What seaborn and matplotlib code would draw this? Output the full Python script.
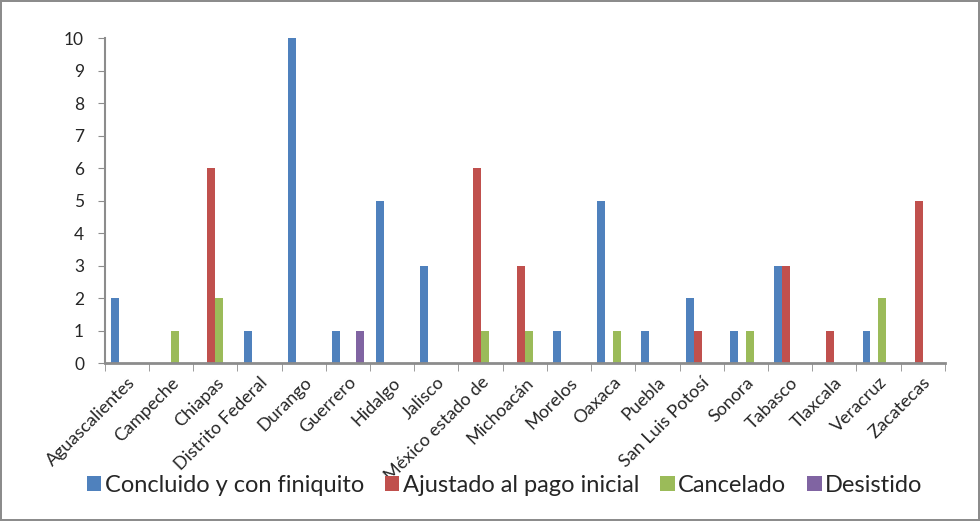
import matplotlib
matplotlib.use("Agg")
import matplotlib.pyplot as plt
import numpy as np
import pandas as pd
import seaborn as sns

# Datos por estado
estados = ["Aguascalientes", "Campeche", "Chiapas", "Distrito Federal", "Durango",
           "Guerrero", "Hidalgo", "Jalisco", "México estado de", "Michoacán",
           "Morelos", "Oaxaca", "Puebla", "San Luis Potosí", "Sonora",
           "Tabasco", "Tlaxcala", "Veracruz", "Zacatecas"]
concluido = [2, 0, 0, 1, 10, 1, 5, 3, 0, 0, 1, 5, 1, 2, 1, 3, 0, 1, 0]
ajustado = [0, 0, 6, 0, 0, 0, 0, 0, 6, 3, 0, 0, 0, 1, 0, 3, 1, 0, 5]
cancelado = [0, 1, 2, 0, 0, 0, 0, 0, 1, 1, 0, 1, 0, 0, 1, 0, 0, 2, 0]
desistido = [0, 0, 0, 0, 0, 1, 0, 0, 0, 0, 0, 0, 0, 0, 0, 0, 0, 0, 0]
series = ["Concluido y con finiquito", "Ajustado al pago inicial", "Cancelado", "Desistido"]
colores = ["#4F81BD", "#C0504D", "#9BBB59", "#8064A2"]

df = pd.DataFrame({
    "estado": estados * 4,
    "serie": np.repeat(series, len(estados)),
    "valor": concluido + ajustado + cancelado + desistido,
})

sns.set_style("white")
plt.rcParams["font.family"] = ["Lato", "DejaVu Sans"]

fig = plt.figure(figsize=(9.8, 5.21), dpi=100)
fig.patch.set_edgecolor("#8c8c8c")
fig.patch.set_linewidth(1.5)
ax = fig.add_axes([0.107, 0.303, 0.857, 0.624])

sns.barplot(data=df, x="estado", y="valor", hue="serie", palette=colores,
            width=0.72, ax=ax, saturation=1, edgecolor="none")

ax.set_ylim(0, 10)
ax.set_xlim(-0.5, len(estados) - 0.5)
ax.set_yticks(range(0, 11))
ax.set_xlabel("")
ax.set_ylabel("")
for s in ["top", "right"]:
    ax.spines[s].set_visible(False)
ax.spines["left"].set_color("#8c8c8c")
ax.spines["bottom"].set_color("#8c8c8c")
ax.spines["left"].set_linewidth(1.5)
ax.spines["bottom"].set_linewidth(2)

ax.tick_params(axis="y", labelsize=12.5, length=5, color="#8c8c8c", left=True, pad=10)
ax.set_xticks(np.arange(-0.5, len(estados)), minor=True)
ax.tick_params(axis="x", which="minor", length=6, color="#8c8c8c", bottom=True)
ax.tick_params(axis="x", which="major", length=0, pad=8)
ax.set_xticklabels(estados, rotation=45, ha="right", rotation_mode="anchor",
                   fontsize=13)

sns.move_legend(ax, "center", bbox_to_anchor=(0.515, 0.068), bbox_transform=fig.transFigure,
                ncol=4, frameon=False, title=None, fontsize=17,
                handlelength=0.6, handleheight=0.6, handletextpad=0.15, columnspacing=0.9)

fig.savefig("out.png", dpi=100)
